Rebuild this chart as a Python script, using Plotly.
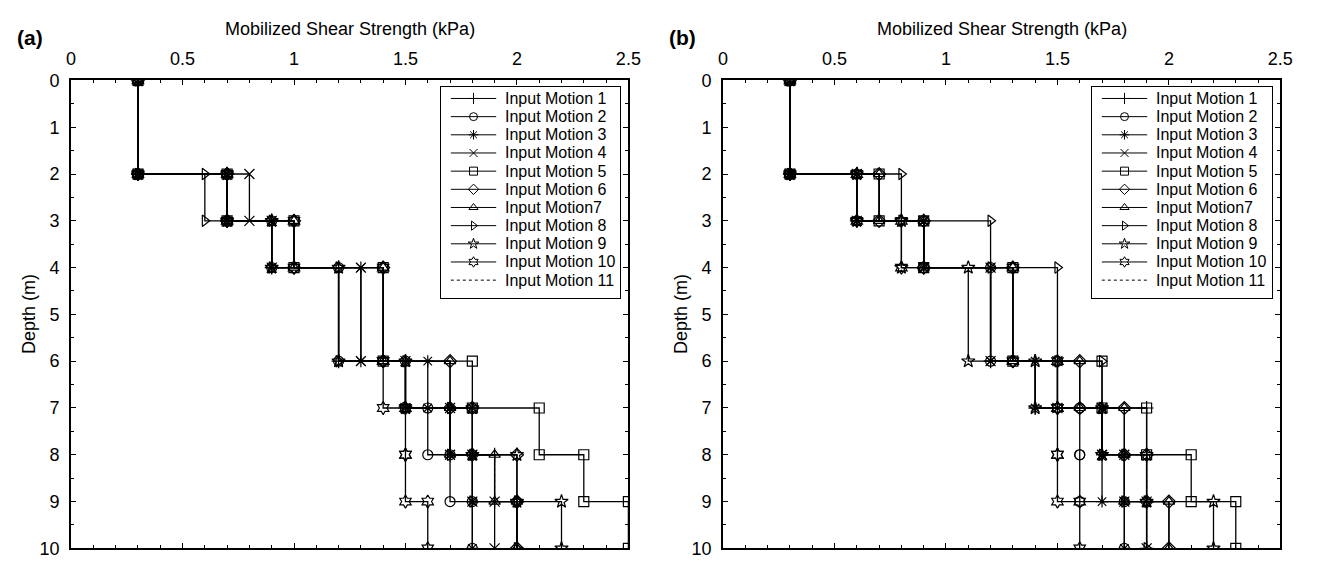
import plotly.graph_objects as go

# Layer boundaries (m) of the soil column
depth_breaks = [0, 2, 3, 4, 6, 7, 8, 9, 10]

motion_names = [
    "Input Motion 1", "Input Motion 2", "Input Motion 3", "Input Motion 4",
    "Input Motion 5", "Input Motion 6", "Input Motion7", "Input Motion 8",
    "Input Motion 9", "Input Motion 10", "Input Motion 11",
]
motion_symbols = [
    "cross-thin-open", "circle-open", "asterisk-open", "x-thin-open",
    "square-open", "diamond-open", "triangle-up-open", "triangle-right-open",
    "star-open", "hexagram-open", None,
]

# Mobilized shear strength (kPa) per layer, case (a)
strength_a = [
    [0.3, 0.7, 0.9, 1.2, 1.5, 1.7, 1.9, 2.0],
    [0.3, 0.7, 0.9, 1.2, 1.5, 1.6, 1.7, 1.8],
    [0.3, 0.7, 0.9, 1.3, 1.6, 1.8, 1.8, 1.8],
    [0.3, 0.8, 0.9, 1.3, 1.5, 1.7, 1.8, 1.9],
    [0.3, 0.7, 1.0, 1.4, 1.8, 2.1, 2.3, 2.5],
    [0.3, 0.7, 1.0, 1.4, 1.7, 1.8, 2.0, 2.0],
    [0.3, 0.7, 1.0, 1.4, 1.7, 1.7, 1.9, 2.0],
    [0.3, 0.6, 0.9, 1.2, 1.5, 1.7, 1.8, 2.0],
    [0.3, 0.7, 0.9, 1.2, 1.5, 1.8, 2.0, 2.2],
    [0.3, 0.7, 1.0, 1.4, 1.4, 1.5, 1.5, 1.6],
    [0.3, 0.7, 0.9, 1.2, 1.5, 1.7, 1.9, 2.0],
]

# Mobilized shear strength (kPa) per layer, case (b)
strength_b = [
    [0.3, 0.6, 0.9, 1.2, 1.4, 1.9, 1.9, 1.9],
    [0.3, 0.6, 0.9, 1.2, 1.5, 1.6, 1.6, 1.8],
    [0.3, 0.6, 0.9, 1.2, 1.4, 1.7, 1.7, 1.8],
    [0.3, 0.6, 0.9, 1.2, 1.5, 1.7, 1.8, 1.9],
    [0.3, 0.7, 0.9, 1.3, 1.7, 1.9, 2.1, 2.3],
    [0.3, 0.7, 0.9, 1.3, 1.6, 1.8, 1.9, 2.0],
    [0.3, 0.7, 0.9, 1.3, 1.6, 1.8, 1.8, 2.0],
    [0.3, 0.8, 1.2, 1.5, 1.7, 1.7, 1.8, 1.9],
    [0.3, 0.6, 0.8, 1.1, 1.4, 1.7, 1.9, 2.2],
    [0.3, 0.6, 0.8, 1.3, 1.5, 1.5, 1.5, 1.6],
    [0.3, 0.6, 0.9, 1.2, 1.5, 1.7, 1.9, 1.9],
]

x_tick_vals = [0, 0.5, 1, 1.5, 2, 2.5]
x_tick_text = ["0", "0.5", "1", "1.5", "2", "2.5"]
y_tick_vals = list(range(0, 11))

W, H = 1320, 568
FONT = "Liberation Sans, Arial, sans-serif"
LINE_W = 1.3


def step_profile(values):
    xs, ys = [], []
    for i, v in enumerate(values):
        xs += [v, v]
        ys += [depth_breaks[i], depth_breaks[i + 1]]
    return xs, ys


def px_x(p):
    return p / W


def px_y(p):
    return 1 - p / H


fig = go.Figure()

panels = [
    dict(values=strength_a, xref="x", yref="y", left=67, right=632,
         leg=(442, 623), leg_axes=("x3", "y3"), label="(a)"),
    dict(values=strength_b, xref="x2", yref="y2", left=728, right=1293,
         leg=(1102, 1285), leg_axes=("x4", "y4"), label="(b)"),
]
top_px, bottom_px = 73, 558
leg_top, leg_bottom = 80, 298
row0, row_step = 91.7, 18.83

for p in panels:
    # step profiles of each input motion
    for name, sym, vals in zip(motion_names, motion_symbols, p["values"]):
        xs, ys = step_profile(vals)
        if sym is None:
            fig.add_trace(go.Scatter(
                x=xs, y=ys, mode="lines", name=name, showlegend=False,
                line=dict(color="black", width=1, dash="dot"),
                xaxis=p["xref"], yaxis=p["yref"]))
        else:
            fig.add_trace(go.Scatter(
                x=xs, y=ys, mode="lines+markers", name=name, showlegend=False,
                line=dict(color="black", width=LINE_W),
                marker=dict(symbol=sym, size=10, color="black",
                            line=dict(color="black", width=1.2)),
                xaxis=p["xref"], yaxis=p["yref"]))

    # legend drawn on its own small axes (pixel units)
    lx0, lx1 = p["leg"]
    seg0, seg1 = lx0 + 10, lx0 + 56
    for i, (name, sym) in enumerate(zip(motion_names, motion_symbols)):
        ry = row0 + row_step * i
        fig.add_trace(go.Scatter(
            x=[seg0, seg1], y=[ry, ry], mode="lines", showlegend=False,
            line=dict(color="black", width=1,
                      dash="dot" if sym is None else "solid"),
            xaxis=p["leg_axes"][0], yaxis=p["leg_axes"][1], hoverinfo="skip"))
        if sym is not None:
            fig.add_trace(go.Scatter(
                x=[(seg0 + seg1) / 2], y=[ry], mode="markers", showlegend=False,
                marker=dict(symbol=sym, size=8, color="black",
                            line=dict(color="black", width=1)),
                xaxis=p["leg_axes"][0], yaxis=p["leg_axes"][1], hoverinfo="skip"))
        fig.add_annotation(
            x=lx0 + 63, y=ry, xref=p["leg_axes"][0], yref=p["leg_axes"][1],
            text=name, showarrow=False, xanchor="left", yanchor="middle",
            font=dict(family=FONT, size=16, color="black"))

    # axis title, depth title and panel label
    cx = (p["left"] + p["right"]) / 2
    fig.add_annotation(
        x=px_x(cx), y=px_y(20), xref="paper", yref="paper",
        text="Mobilized Shear Strength (kPa)", showarrow=False,
        xanchor="center", yanchor="middle",
        font=dict(family=FONT, size=18, color="black"))
    fig.add_annotation(
        x=px_x(p["left"] - 42), y=px_y((top_px + bottom_px) / 2),
        xref="paper", yref="paper", text="Depth (m)", textangle=-90,
        showarrow=False, xanchor="center", yanchor="middle",
        font=dict(family=FONT, size=18, color="black"))
    fig.add_annotation(
        x=px_x(p["left"] - 57), y=px_y(28), xref="paper", yref="paper",
        text="<b>" + p["label"] + "</b>", showarrow=False,
        xanchor="left", yanchor="middle",
        font=dict(family=FONT, size=21, color="black"))

y_dom = [px_y(bottom_px), px_y(top_px)]


def main_xaxis(left, right, anchor):
    return dict(
        domain=[px_x(left), px_x(right)], range=[0, 2.5], anchor=anchor,
        side="top", showline=True, linecolor="black", linewidth=1.8,
        mirror="allticks", ticks="inside", ticklen=5, tickwidth=1,
        tickcolor="black", tickvals=x_tick_vals, ticktext=x_tick_text,
        minor=dict(dtick=0.1, ticks="inside", ticklen=3, tickcolor="black",
                   tickwidth=1, showgrid=False),
        showgrid=False, zeroline=False, ticklabelstandoff=6,
        ticklabeloverflow="allow",
        tickfont=dict(family=FONT, size=18, color="black"))


def main_yaxis(anchor):
    return dict(
        domain=y_dom, range=[10, 0], anchor=anchor,
        showline=True, linecolor="black", linewidth=1.8,
        mirror="allticks", ticks="inside", ticklen=5, tickwidth=1,
        tickcolor="black", tickvals=y_tick_vals,
        minor=dict(dtick=0.5, ticks="inside", ticklen=3, tickcolor="black",
                   tickwidth=1, showgrid=False),
        showgrid=False, zeroline=False, ticklabelstandoff=6,
        ticklabeloverflow="allow",
        tickfont=dict(family=FONT, size=18, color="black"))


def legend_xaxis(x0, x1, anchor):
    return dict(domain=[px_x(x0), px_x(x1)], range=[x0, x1], anchor=anchor,
                showline=True, mirror=True, linecolor="black", linewidth=1.2,
                showticklabels=False, ticks="", showgrid=False, zeroline=False,
                fixedrange=True)


def legend_yaxis(anchor):
    return dict(domain=[px_y(leg_bottom), px_y(leg_top)],
                range=[leg_bottom, leg_top], anchor=anchor,
                showline=True, mirror=True, linecolor="black", linewidth=1.2,
                showticklabels=False, ticks="", showgrid=False, zeroline=False,
                fixedrange=True)


fig.update_layout(
    width=W, height=H,
    margin=dict(l=0, r=0, t=0, b=0),
    paper_bgcolor="white", plot_bgcolor="white",
    font=dict(family=FONT, color="black"),
    xaxis=main_xaxis(67, 632, "y"),
    yaxis=main_yaxis("x"),
    xaxis2=main_xaxis(728, 1293, "y2"),
    yaxis2=main_yaxis("x2"),
    xaxis3=legend_xaxis(442, 623, "y3"),
    yaxis3=legend_yaxis("x3"),
    xaxis4=legend_xaxis(1102, 1285, "y4"),
    yaxis4=legend_yaxis("x4"),
)

fig.write_html("out.html")
